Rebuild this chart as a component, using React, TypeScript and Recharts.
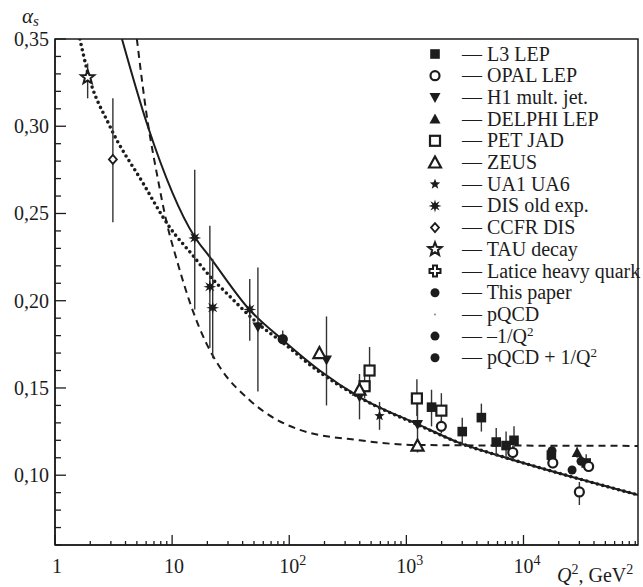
import React from "react";
import {
  ComposedChart, Line, Scatter, XAxis, YAxis, ErrorBar, ReferenceArea,
} from "recharts";

const INK = "#1c1c1c";
const FONT = "'Liberation Serif', 'Times New Roman', serif";

// axes
const xDecades = [1, 10, 100, 1000, 10000];
const xMultipliers = [1, 2, 3, 4, 5, 6, 7, 8, 9];
const xTicks = xDecades.flatMap((d) => xMultipliers.map((m) => m * d));
const yTicks = [
  0.06, 0.07, 0.08, 0.09, 0.1, 0.11, 0.12, 0.13, 0.14, 0.15, 0.16, 0.17, 0.18, 0.19, 0.2,
  0.21, 0.22, 0.23, 0.24, 0.25, 0.26, 0.27, 0.28, 0.29, 0.3, 0.31, 0.32, 0.33, 0.34, 0.35,
];
const yLabels = [0.1, 0.15, 0.2, 0.25, 0.3, 0.35];

// curves
const solidCurve = [
  { q2: 3.73, a: 0.35 }, { q2: 6.2, a: 0.3 }, { q2: 15.6, a: 0.2365 }, { q2: 21, a: 0.225 },
  { q2: 46, a: 0.1947 }, { q2: 88, a: 0.1775 }, { q2: 182, a: 0.16 }, { q2: 398, a: 0.1448 },
  { q2: 1290, a: 0.1288 }, { q2: 2840, a: 0.1185 }, { q2: 7100, a: 0.11 },
  { q2: 28000, a: 0.0984 }, { q2: 95000, a: 0.0887 },
];
const dashedCurve = [
  { q2: 5.0, a: 0.35 }, { q2: 6.2, a: 0.302 }, { q2: 7.4, a: 0.273 }, { q2: 9.0, a: 0.2445 },
  { q2: 11, a: 0.223 }, { q2: 14.7, a: 0.196 }, { q2: 19.8, a: 0.175 }, { q2: 25.5, a: 0.162 },
  { q2: 46, a: 0.143 }, { q2: 123, a: 0.126 }, { q2: 400, a: 0.12 }, { q2: 1230, a: 0.1173 },
  { q2: 95000, a: 0.1168 },
];
const dottedCurve = [
  { q2: 1.63, a: 0.35 }, { q2: 1.9, a: 0.331 }, { q2: 2.94, a: 0.3 }, { q2: 5.63, a: 0.2675 },
  { q2: 9.55, a: 0.242 }, { q2: 15, a: 0.226 }, { q2: 21, a: 0.214 }, { q2: 29, a: 0.2045 },
  { q2: 56, a: 0.186 }, { q2: 88, a: 0.176 }, { q2: 182, a: 0.159 }, { q2: 400, a: 0.1445 },
  { q2: 1290, a: 0.1285 }, { q2: 2840, a: 0.1185 }, { q2: 7100, a: 0.11 },
  { q2: 28000, a: 0.0984 }, { q2: 95000, a: 0.0887 },
];

// measurements, err = [down, up]
const l3Lep = [
  { q2: 1640, a: 0.139, err: [0.011, 0.01] }, { q2: 3000, a: 0.125, err: [0.008, 0.008] },
  { q2: 4370, a: 0.133, err: [0.008, 0.008] }, { q2: 5850, a: 0.119, err: [0.008, 0.008] },
  { q2: 7100, a: 0.117, err: [0.008, 0.008] }, { q2: 8300, a: 0.12, err: [0.008, 0.008] },
  { q2: 17300, a: 0.1115, err: [0.004, 0.005] }, { q2: 34300, a: 0.107, err: [0.004, 0.005] },
];
const opalLep = [
  { q2: 1990, a: 0.128, err: [0.004, 0.004] }, { q2: 8100, a: 0.113, err: [0.004, 0.004] },
  { q2: 17800, a: 0.107, err: [0.003, 0.003] }, { q2: 36000, a: 0.105, err: [0.003, 0.003] },
  { q2: 30000, a: 0.0904, err: [0.0075, 0.0057] },
];
const h1Jets = [
  { q2: 54, a: 0.185, err: [0.037, 0.034] }, { q2: 208, a: 0.166, err: [0.026, 0.025] },
  { q2: 398, a: 0.145, err: [0.013, 0.013] }, { q2: 1245, a: 0.129, err: [0.016, 0.014] },
];
const delphiLep = [{ q2: 28700, a: 0.113, err: [0.003, 0.003] }];
const petJad = [
  { q2: 440, a: 0.151, err: [0.007, 0.008] }, { q2: 485, a: 0.16, err: [0.011, 0.0135] },
  { q2: 1230, a: 0.144, err: [0.01, 0.011] }, { q2: 1990, a: 0.137, err: [0.007, 0.01] },
];
const zeus = [
  { q2: 181, a: 0.17, err: [0, 0] }, { q2: 398, a: 0.149, err: [0, 0] },
  { q2: 1245, a: 0.117, err: [0.002, 0] },
];
const ua1ua6 = [{ q2: 590, a: 0.134, err: [0.008, 0.008] }];
const disOld = [
  { q2: 15.6, a: 0.236, err: [0.041, 0.039] }, { q2: 21, a: 0.208, err: [0.035, 0.035] },
  { q2: 22.2, a: 0.196, err: [0.029, 0.028] }, { q2: 46, a: 0.195, err: [0.018, 0.0175] },
];
const ccfrDis = [{ q2: 3.12, a: 0.281, err: [0.036, 0.035] }];
const tauDecay = [{ q2: 1.9, a: 0.328, err: [0.012, 0.008] }];
const latticeHq = [{ q2: 88, a: 0.178, err: [0.002, 0.005] }];
const thisPaper = [
  { q2: 17500, a: 0.114, err: [0, 0] }, { q2: 26000, a: 0.103, err: [0, 0] },
  { q2: 31000, a: 0.108, err: [0, 0] },
];

const legendRows = [
  { kind: "sq", label: "L3 LEP" },
  { kind: "circ", label: "OPAL LEP" },
  { kind: "tdown", label: "H1 mult. jet." },
  { kind: "tup", label: "DELPHI LEP" },
  { kind: "osq", label: "PET JAD" },
  { kind: "otri", label: "ZEUS" },
  { kind: "star", label: "UA1 UA6" },
  { kind: "ast", label: "DIS old exp." },
  { kind: "diam", label: "CCFR DIS" },
  { kind: "ostar", label: "TAU decay" },
  { kind: "ocross", label: "Latice heavy quark" },
  { kind: "dot", label: "This paper" },
  { kind: "tiny", label: "pQCD" },
  { kind: "dot", label: "\u20131/Q", sup: "2" },
  { kind: "dot", label: "pQCD + 1/Q", sup: "2" },
];

const starPts = (cx: number, cy: number, n: number, ro: number, ri: number) =>
  Array.from({ length: n * 2 }, (_, i) => {
    const r = i % 2 === 0 ? ro : ri;
    const t = -Math.PI / 2 + (i * Math.PI) / n;
    return `${cx + r * Math.cos(t)},${cy + r * Math.sin(t)}`;
  }).join(" ");

const Mark = ({ kind, cx, cy }: { kind: string; cx: number; cy: number }) => {
  switch (kind) {
    case "sq":
      return <rect x={cx - 4.8} y={cy - 4.8} width={9.6} height={9.6} fill={INK} />;
    case "circ":
      return <circle cx={cx} cy={cy} r={4.5} fill="#fff" stroke={INK} strokeWidth={2.2} />;
    case "tdown":
      return <polygon points={`${cx - 5.5},${cy - 4.5} ${cx + 5.5},${cy - 4.5} ${cx},${cy + 5.5}`} fill={INK} />;
    case "tup":
      return <polygon points={`${cx - 5.5},${cy + 4.5} ${cx + 5.5},${cy + 4.5} ${cx},${cy - 5.5}`} fill={INK} />;
    case "osq":
      return <rect x={cx - 5} y={cy - 5} width={10} height={10} fill="#fff" stroke={INK} strokeWidth={2.2} />;
    case "otri":
      return <polygon points={`${cx - 6},${cy + 5} ${cx + 6},${cy + 5} ${cx},${cy - 6}`} fill="#fff" stroke={INK} strokeWidth={2.2} />;
    case "star":
      return <polygon points={starPts(cx, cy, 5, 5.5, 2.4)} fill={INK} />;
    case "ast":
      return <polygon points={starPts(cx, cy, 8, 6.5, 2.8)} fill={INK} />;
    case "diam":
      return <polygon points={`${cx},${cy - 4.5} ${cx + 4},${cy} ${cx},${cy + 4.5} ${cx - 4},${cy}`} fill="#fff" stroke={INK} strokeWidth={1.8} />;
    case "ostar":
      return <polygon points={starPts(cx, cy, 5, 7, 3)} fill="#fff" stroke={INK} strokeWidth={2} />;
    case "ocross":
      return (
        <polygon
          points={`${cx - 2},${cy - 5.5} ${cx + 2},${cy - 5.5} ${cx + 2},${cy - 2} ${cx + 5.5},${cy - 2} ${cx + 5.5},${cy + 2} ${cx + 2},${cy + 2} ${cx + 2},${cy + 5.5} ${cx - 2},${cy + 5.5} ${cx - 2},${cy + 2} ${cx - 5.5},${cy + 2} ${cx - 5.5},${cy - 2} ${cx - 2},${cy - 2}`}
          fill="#fff" stroke={INK} strokeWidth={2}
        />
      );
    case "pt":
      return <circle cx={cx} cy={cy} r={5.2} fill={INK} />;
    case "dot":
      return <circle cx={cx} cy={cy} r={4.5} fill={INK} />;
    case "tiny":
      return <circle cx={cx} cy={cy} r={1} fill="#888" />;
    default:
      return null;
  }
};

const XTick = ({ x, y, payload }: any) => {
  const i = xDecades.indexOf(payload.value);
  const major = i >= 0;
  return (
    <g>
      <line x1={x} x2={x} y1={y} y2={y - (major ? 10 : 4)} stroke={INK} strokeWidth={1.3} />
      {major && (
        <text
          x={i < 2 ? x + 2 : x - 10} y={y + 28} textAnchor={i < 2 ? "middle" : "start"}
          fontFamily={FONT} fontSize={20} fill={INK}
        >
          {i === 0 ? "1" : "10"}
          {i >= 2 && <tspan dy={-8} fontSize={14}>{i}</tspan>}
        </text>
      )}
    </g>
  );
};

const YTick = ({ x, y, payload }: any) => {
  const v = payload.value;
  const major = yLabels.some((l) => Math.abs(l - v) < 1e-6);
  return (
    <g>
      <line x1={x} x2={x + (major ? 11 : 6)} y1={y} y2={y} stroke={INK} strokeWidth={1.3} />
      {major && (
        <text x={x - 6} y={y + 7} textAnchor="end" fontFamily={FONT} fontSize={20} fill={INK}>
          {v.toFixed(2).replace(".", ",")}
        </text>
      )}
    </g>
  );
};

const series = [
  { data: l3Lep, kind: "sq" },
  { data: opalLep, kind: "circ" },
  { data: h1Jets, kind: "tdown" },
  { data: delphiLep, kind: "tup" },
  { data: petJad, kind: "osq" },
  { data: zeus, kind: "otri" },
  { data: ua1ua6, kind: "star" },
  { data: disOld, kind: "ast" },
  { data: ccfrDis, kind: "diam" },
  { data: tauDecay, kind: "ostar" },
  { data: latticeHq, kind: "pt" },
  { data: thisPaper, kind: "dot" },
];

// fixed to the viewport so nothing overflows the page; all coordinates are page pixels
const W = 643;
const H = 587;

export default function App() {
  return (
    <div style={{ position: "fixed", left: 0, top: 0, width: W, height: H, background: "#fff" }}>
      <ComposedChart width={W} height={H} margin={{ top: 39, right: 5, bottom: 0, left: 0 }}>
        <XAxis
          dataKey="q2" type="number" scale="log" domain={[1, 95000]} allowDataOverflow
          ticks={xTicks} interval={0} tick={(p: any) => <XTick {...p} />}
          tickSize={0} tickMargin={0} tickLine={false} height={42}
          axisLine={{ stroke: INK, strokeWidth: 1.5 }}
        />
        <YAxis
          dataKey="a" type="number" domain={[0.06, 0.35]} allowDataOverflow
          ticks={yTicks} interval={0} tick={(p: any) => <YTick {...p} />}
          tickSize={0} tickMargin={0} tickLine={false} width={55}
          axisLine={{ stroke: INK, strokeWidth: 1.5 }}
        />
        <ReferenceArea x1={1} x2={95000} y1={0.06} y2={0.35} fill="none" stroke={INK} strokeWidth={1.5} />
        <Line data={dashedCurve} dataKey="a" type="monotone" stroke={INK} strokeWidth={2}
          strokeDasharray="7 5" dot={false} isAnimationActive={false} />
        <Line data={dottedCurve} dataKey="a" type="monotone" stroke={INK} strokeWidth={3.6}
          strokeDasharray="0 5.5" strokeLinecap="round" dot={false} isAnimationActive={false} />
        <Line data={solidCurve} dataKey="a" type="monotone" stroke={INK} strokeWidth={2}
          dot={false} isAnimationActive={false} />
        {series.map((s, i) => (
          <Scatter
            key={i} data={s.data} dataKey="a" isAnimationActive={false}
            shape={(p: any) => <Mark kind={s.kind} cx={p.cx} cy={p.cy} />}
          >
            <ErrorBar dataKey="err" direction="y" width={0} stroke="#333" strokeWidth={1.4} />
          </Scatter>
        ))}
      </ComposedChart>

      <svg width={W} height={H} style={{ position: "absolute", left: 0, top: 0, pointerEvents: "none" }}>
        <text x={22} y={23} fontFamily={FONT} fontSize={21} fontStyle="italic" fill={INK}>
          α<tspan dy={3} fontSize={15}>s</tspan>
        </text>
        <text x={557} y={582} fontFamily={FONT} fontSize={20} fill={INK}>
          <tspan fontStyle="italic">Q</tspan>
          <tspan dy={-8} fontSize={14}>2</tspan>
          <tspan dy={8}>, GeV</tspan>
          <tspan dy={-8} fontSize={14}>2</tspan>
        </text>
        {legendRows.map((r, i) => {
          const cy = 54 + i * 21.7;
          return (
            <g key={r.label}>
              <Mark kind={r.kind} cx={435} cy={cy} />
              <text x={462} y={cy + 6.5} fontFamily={FONT} fontSize={20} fill={INK}>
                {"\u2014 " + r.label}
                {r.sup && <tspan dy={-7} fontSize={13}>{r.sup}</tspan>}
              </text>
            </g>
          );
        })}
      </svg>
    </div>
  );
}
